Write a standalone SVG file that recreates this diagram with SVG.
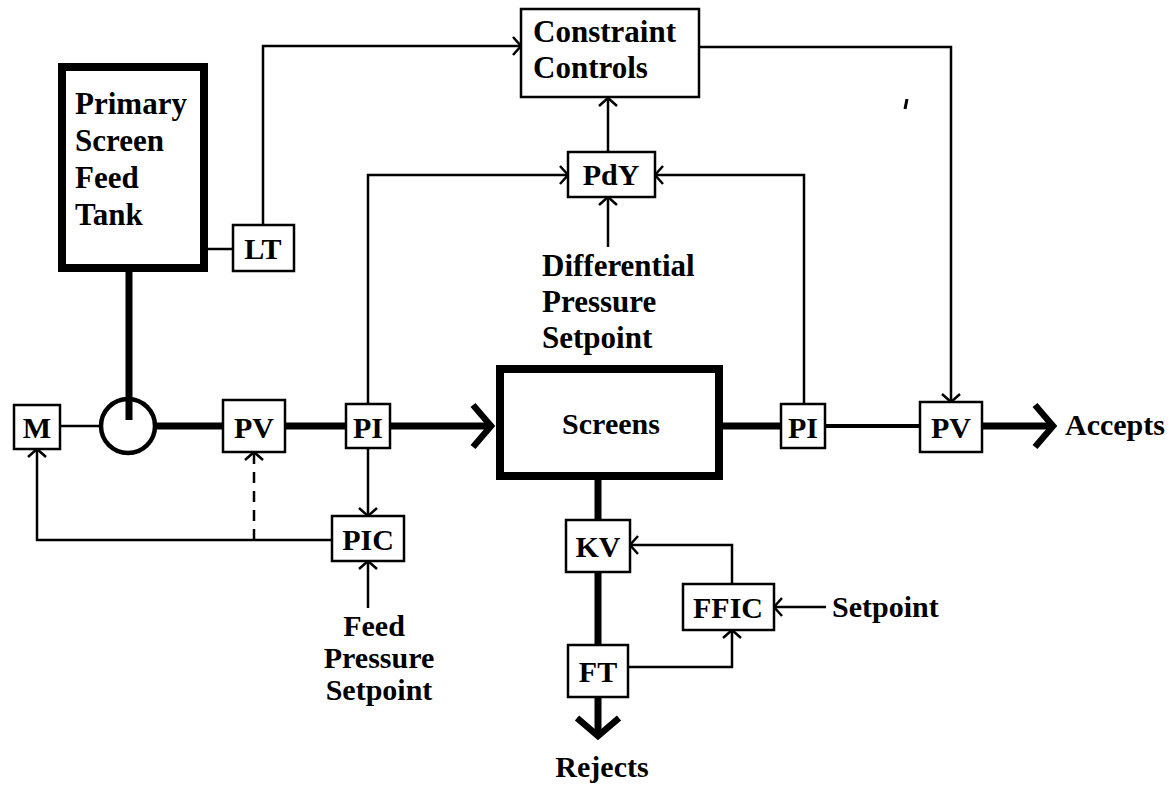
<svg xmlns="http://www.w3.org/2000/svg" width="1175" height="787" viewBox="0 0 1175 787">
<style>
text{font-family:"Liberation Serif","DejaVu Serif",serif;font-weight:bold;font-size:30px;fill:#000}
.big{font-size:31px}
.box{fill:#fff;stroke:#000;stroke-width:2.5}
.tbox{fill:#fff;stroke:#000;stroke-width:8}
.sig{fill:none;stroke:#000;stroke-width:2.5}
.pipe{fill:none;stroke:#000;stroke-width:7}
.mid{fill:none;stroke:#000;stroke-width:4}
.c{text-anchor:middle}
</style>
<defs>
<marker id="a" markerUnits="userSpaceOnUse" markerWidth="24" markerHeight="24" refX="12" refY="12" orient="auto" viewBox="0 0 24 24">
<path d="M4,3 L12,12 L4,21" fill="none" stroke="#000" stroke-width="2.5"/>
</marker>
<marker id="A" markerUnits="userSpaceOnUse" markerWidth="50" markerHeight="50" refX="25" refY="25" orient="auto" viewBox="0 0 50 50">
<path d="M6,4 L24,25 L6,46" fill="none" stroke="#000" stroke-width="6.5"/>
</marker>
</defs>
<rect width="1175" height="787" fill="#fff"/>
<g id="connectors">
<path class="pipe" d="M129,272 V420"/>
<path class="sig" d="M60,426 H101"/>
<path class="pipe" d="M155,426 H223"/>
<path class="pipe" d="M285,426 H346"/>
<path class="pipe" d="M390,426 H492" marker-end="url(#A)"/>
<path class="pipe" d="M722,426 H781"/>
<path class="mid" d="M825,426 H920"/>
<path class="pipe" d="M982,426 H1054" marker-end="url(#A)"/>
<path class="pipe" d="M598,480 V520"/>
<path class="pipe" d="M598,572 V645"/>
<path class="pipe" d="M598,697 V737" marker-end="url(#A)"/>
<path class="sig" d="M208,249 H233"/>
<path class="sig" d="M263,225 V46 H521" marker-end="url(#a)"/>
<path class="sig" d="M699,47 H951 V402" marker-end="url(#a)"/>
<path class="sig" d="M608,152 V98" marker-end="url(#a)"/>
<path class="sig" d="M368,404 V175 H568" marker-end="url(#a)"/>
<path class="sig" d="M804,404 V175 H655" marker-end="url(#a)"/>
<path class="sig" d="M608,247 V197" marker-end="url(#a)"/>
<path class="sig" d="M368,448 V516" marker-end="url(#a)"/>
<path class="sig" d="M332,540 H37 V449" marker-end="url(#a)"/>
<path class="sig" d="M254,540 V452" stroke-dasharray="11,8" marker-end="url(#a)"/>
<path class="sig" d="M368,608 V561" marker-end="url(#a)"/>
<path class="sig" d="M732,584 V545 H630" marker-end="url(#a)"/>
<path class="sig" d="M628,667 H732 V630" marker-end="url(#a)"/>
<path class="sig" d="M826,607 H774" marker-end="url(#a)"/>
</g>
<g id="constraint"><rect class="box" x="521" y="9" width="178" height="88"/><text class="big" x="533" y="42">Constraint</text><text class="big" x="533" y="78">Controls</text></g>
<g id="tank"><rect class="tbox" x="62" y="67" width="142" height="201"/><text class="big" x="75" y="114">Primary</text><text class="big" x="75" y="151">Screen</text><text class="big" x="75" y="188">Feed</text><text class="big" x="75" y="225">Tank</text></g>
<g id="lt"><rect class="box" x="233" y="225" width="61" height="46"/><text class="c" x="263" y="259">LT</text></g>
<g id="pump"><circle cx="128" cy="426" r="27" fill="none" stroke="#000" stroke-width="4.5"/></g>
<g id="m"><rect class="box" x="14" y="405" width="46" height="44"/><text class="c" x="37" y="438">M</text></g>
<g id="pv1"><rect class="box" x="223" y="400" width="62" height="52"/><text class="c" x="254" y="438">PV</text></g>
<g id="pi1"><rect class="box" x="346" y="404" width="44" height="44"/><text class="c" x="368" y="438">PI</text></g>
<g id="screens"><rect class="tbox" x="500" y="369" width="219" height="107"/><text class="c" x="611" y="434">Screens</text></g>
<g id="pi2"><rect class="box" x="781" y="404" width="44" height="44"/><text class="c" x="803" y="438">PI</text></g>
<g id="pv2"><rect class="box" x="920" y="402" width="62" height="50"/><text class="c" x="951" y="438">PV</text></g>
<g id="accepts"><text x="1065" y="435">Accepts</text></g>
<g id="pdy"><rect class="box" x="568" y="152" width="87" height="45"/><text class="c" x="611" y="185">PdY</text></g>
<g id="dps"><text class="big" x="542" y="276">Differential</text><text class="big" x="542" y="312">Pressure</text><text class="big" x="542" y="348">Setpoint</text></g>
<g id="pic"><rect class="box" x="332" y="516" width="72" height="45"/><text class="c" x="368" y="550">PIC</text></g>
<g id="fps"><text class="c" x="374" y="636">Feed</text><text class="c" x="379" y="668">Pressure</text><text class="c" x="379" y="700">Setpoint</text></g>
<g id="kv"><rect class="box" x="566" y="520" width="64" height="52"/><text class="c" x="598" y="557">KV</text></g>
<g id="ft"><rect class="box" x="568" y="645" width="60" height="52"/><text class="c" x="598" y="682">FT</text></g>
<g id="ffic"><rect class="box" x="683" y="584" width="91" height="46"/><text class="c" x="728" y="618">FFIC</text></g>
<g id="sp"><text x="832" y="617">Setpoint</text></g>
<g id="rejects"><text class="c" x="602" y="777">Rejects</text></g>
<path d="M907,99 L905,109" stroke="#000" stroke-width="3"/>
</svg>
